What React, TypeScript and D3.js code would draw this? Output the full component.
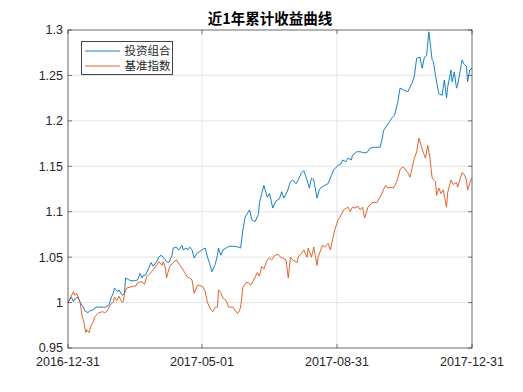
import { useMemo } from 'react'
import * as d3 from 'd3'

const title = '近1年累计收益曲线'
const seriesNames = ['投资组合', '基准指数']
const seriesColors = ['#0072BD', '#D95319']

const xTickDates = ['2016-12-31', '2017-05-01', '2017-08-31', '2017-12-31']
const yTicks = [0.95, 1, 1.05, 1.1, 1.15, 1.2, 1.25, 1.3]

// 投资组合
const portfolio: [string, number][] = [
  ['2016-12-31', 1.0], ['2017-01-03', 1.006], ['2017-01-05', 1.001], ['2017-01-06', 1.004],
  ['2017-01-09', 1.006], ['2017-01-11', 1.0], ['2017-01-14', 0.995], ['2017-01-15', 0.991],
  ['2017-01-18', 0.989], ['2017-01-20', 0.991], ['2017-01-23', 0.992], ['2017-01-25', 0.995],
  ['2017-02-01', 0.995], ['2017-02-03', 0.995], ['2017-02-06', 0.997], ['2017-02-08', 1.005],
  ['2017-02-10', 1.011], ['2017-02-11', 1.016], ['2017-02-14', 1.012], ['2017-02-15', 1.014],
  ['2017-02-18', 1.008], ['2017-02-20', 1.01], ['2017-02-21', 1.027], ['2017-02-24', 1.025],
  ['2017-02-26', 1.024], ['2017-03-01', 1.024], ['2017-03-04', 1.025], ['2017-03-06', 1.032],
  ['2017-03-08', 1.027], ['2017-03-09', 1.03], ['2017-03-11', 1.03], ['2017-03-14', 1.038],
  ['2017-03-16', 1.044], ['2017-03-18', 1.04], ['2017-03-21', 1.045], ['2017-03-23', 1.05],
  ['2017-03-25', 1.052], ['2017-03-27', 1.05], ['2017-03-30', 1.045], ['2017-04-01', 1.044],
  ['2017-04-04', 1.052], ['2017-04-05', 1.06], ['2017-04-08', 1.061], ['2017-04-10', 1.058],
  ['2017-04-13', 1.063], ['2017-04-14', 1.058], ['2017-04-17', 1.06], ['2017-04-18', 1.058],
  ['2017-04-20', 1.061], ['2017-04-22', 1.058], ['2017-04-24', 1.049], ['2017-04-27', 1.055],
  ['2017-04-29', 1.056], ['2017-05-01', 1.058], ['2017-05-04', 1.06], ['2017-05-06', 1.05],
  ['2017-05-08', 1.043], ['2017-05-10', 1.034], ['2017-05-13', 1.042], ['2017-05-15', 1.052],
  ['2017-05-16', 1.06], ['2017-05-18', 1.052], ['2017-05-20', 1.058], ['2017-05-24', 1.061],
  ['2017-05-26', 1.062], ['2017-05-31', 1.062], ['2017-06-03', 1.061], ['2017-06-05', 1.06],
  ['2017-06-07', 1.08], ['2017-06-09', 1.094], ['2017-06-12', 1.1], ['2017-06-13', 1.102],
  ['2017-06-15', 1.091], ['2017-06-18', 1.089], ['2017-06-21', 1.097], ['2017-06-22', 1.11],
  ['2017-06-24', 1.12], ['2017-06-26', 1.129], ['2017-06-29', 1.116], ['2017-07-01', 1.12],
  ['2017-07-02', 1.115], ['2017-07-04', 1.104], ['2017-07-07', 1.112], ['2017-07-10', 1.114],
  ['2017-07-12', 1.122], ['2017-07-14', 1.115], ['2017-07-17', 1.122], ['2017-07-20', 1.133],
  ['2017-07-22', 1.135], ['2017-07-25', 1.131], ['2017-07-27', 1.135], ['2017-07-30', 1.143],
  ['2017-08-01', 1.145], ['2017-08-04', 1.135], ['2017-08-06', 1.126], ['2017-08-08', 1.137],
  ['2017-08-10', 1.135], ['2017-08-13', 1.115], ['2017-08-15', 1.124], ['2017-08-17', 1.127],
  ['2017-08-20', 1.129], ['2017-08-23', 1.131], ['2017-08-26', 1.14], ['2017-08-28', 1.146],
  ['2017-09-01', 1.151], ['2017-09-04', 1.153], ['2017-09-05', 1.157], ['2017-09-08', 1.155],
  ['2017-09-10', 1.159], ['2017-09-13', 1.157], ['2017-09-14', 1.162], ['2017-09-18', 1.166],
  ['2017-09-21', 1.166], ['2017-09-24', 1.165], ['2017-09-27', 1.165], ['2017-09-30', 1.17],
  ['2017-10-04', 1.171], ['2017-10-09', 1.171], ['2017-10-11', 1.181], ['2017-10-12', 1.189],
  ['2017-10-15', 1.195], ['2017-10-18', 1.2], ['2017-10-20', 1.204], ['2017-10-22', 1.206],
  ['2017-10-25', 1.221], ['2017-10-27', 1.236], ['2017-10-30', 1.234], ['2017-11-03', 1.232],
  ['2017-11-07', 1.242], ['2017-11-09', 1.25], ['2017-11-11', 1.269], ['2017-11-14', 1.27],
  ['2017-11-16', 1.258], ['2017-11-18', 1.27], ['2017-11-20', 1.272], ['2017-11-22', 1.298],
  ['2017-11-25', 1.267], ['2017-11-26', 1.266], ['2017-11-28', 1.25], ['2017-12-01', 1.23],
  ['2017-12-04', 1.228], ['2017-12-06', 1.245], ['2017-12-08', 1.225], ['2017-12-09', 1.237],
  ['2017-12-12', 1.256], ['2017-12-13', 1.243], ['2017-12-15', 1.254], ['2017-12-17', 1.236],
  ['2017-12-18', 1.239], ['2017-12-22', 1.267], ['2017-12-24', 1.262], ['2017-12-26', 1.26],
  ['2017-12-27', 1.243], ['2017-12-29', 1.256], ['2017-12-31', 1.258],
]

// 基准指数
const benchmark: [string, number][] = [
  ['2016-12-31', 1.0], ['2017-01-05', 1.012], ['2017-01-06', 1.008], ['2017-01-08', 1.01],
  ['2017-01-11', 1.0], ['2017-01-13', 0.983], ['2017-01-14', 0.981], ['2017-01-16', 0.967],
  ['2017-01-17', 0.97], ['2017-01-19', 0.967], ['2017-01-21', 0.975], ['2017-01-23', 0.979],
  ['2017-01-24', 0.984], ['2017-01-27', 0.988], ['2017-01-31', 0.99], ['2017-02-02', 0.989],
  ['2017-02-04', 0.99], ['2017-02-07', 0.997], ['2017-02-10', 1.001], ['2017-02-11', 1.006],
  ['2017-02-13', 1.002], ['2017-02-15', 1.007], ['2017-02-18', 1.0], ['2017-02-19', 1.001],
  ['2017-02-20', 1.01], ['2017-02-22', 1.016], ['2017-02-25', 1.017], ['2017-02-28', 1.018],
  ['2017-03-02', 1.018], ['2017-03-04', 1.022], ['2017-03-08', 1.023], ['2017-03-10', 1.02],
  ['2017-03-12', 1.028], ['2017-03-15', 1.032], ['2017-03-18', 1.036], ['2017-03-21', 1.041],
  ['2017-03-23', 1.045], ['2017-03-26', 1.041], ['2017-03-27', 1.045], ['2017-03-29', 1.038],
  ['2017-03-30', 1.027], ['2017-03-31', 1.032], ['2017-04-02', 1.04], ['2017-04-05', 1.044],
  ['2017-04-08', 1.047], ['2017-04-11', 1.041], ['2017-04-14', 1.036], ['2017-04-18', 1.028],
  ['2017-04-20', 1.027], ['2017-04-22', 1.025], ['2017-04-24', 1.01], ['2017-04-27', 1.019],
  ['2017-04-29', 1.019], ['2017-05-02', 1.017], ['2017-05-04', 1.012], ['2017-05-06', 1.0],
  ['2017-05-09', 0.992], ['2017-05-11', 0.99], ['2017-05-13', 0.995], ['2017-05-15', 0.995],
  ['2017-05-16', 1.014], ['2017-05-18', 1.011], ['2017-05-20', 1.005], ['2017-05-23', 1.002],
  ['2017-05-25', 0.995], ['2017-05-26', 0.995], ['2017-05-29', 0.995], ['2017-06-02', 0.988],
  ['2017-06-03', 0.989], ['2017-06-05', 0.995], ['2017-06-07', 1.017], ['2017-06-10', 1.022],
  ['2017-06-12', 1.022], ['2017-06-14', 1.019], ['2017-06-16', 1.023], ['2017-06-20', 1.033],
  ['2017-06-22', 1.029], ['2017-06-24', 1.04], ['2017-06-26', 1.037], ['2017-06-29', 1.047],
  ['2017-07-01', 1.049], ['2017-07-03', 1.047], ['2017-07-06', 1.052], ['2017-07-09', 1.053],
  ['2017-07-11', 1.05], ['2017-07-13', 1.049], ['2017-07-16', 1.047], ['2017-07-18', 1.027],
  ['2017-07-20', 1.05], ['2017-07-22', 1.047], ['2017-07-26', 1.044], ['2017-07-27', 1.05],
  ['2017-07-30', 1.054], ['2017-08-01', 1.058], ['2017-08-04', 1.05], ['2017-08-05', 1.06],
  ['2017-08-08', 1.05], ['2017-08-10', 1.061], ['2017-08-13', 1.041], ['2017-08-14', 1.05],
  ['2017-08-17', 1.06], ['2017-08-18', 1.063], ['2017-08-20', 1.061], ['2017-08-23', 1.065],
  ['2017-08-25', 1.058], ['2017-08-27', 1.069], ['2017-08-29', 1.08], ['2017-09-01', 1.091],
  ['2017-09-05', 1.099], ['2017-09-06', 1.102], ['2017-09-10', 1.105], ['2017-09-12', 1.1],
  ['2017-09-14', 1.105], ['2017-09-16', 1.104], ['2017-09-19', 1.106], ['2017-09-21', 1.102],
  ['2017-09-23', 1.105], ['2017-09-25', 1.093], ['2017-09-28', 1.105], ['2017-10-02', 1.11],
  ['2017-10-06', 1.11], ['2017-10-09', 1.116], ['2017-10-12', 1.124], ['2017-10-14', 1.129],
  ['2017-10-16', 1.126], ['2017-10-19', 1.127], ['2017-10-21', 1.126], ['2017-10-24', 1.133],
  ['2017-10-27', 1.146], ['2017-10-29', 1.149], ['2017-10-31', 1.148], ['2017-11-03', 1.143],
  ['2017-11-05', 1.138], ['2017-11-07', 1.149], ['2017-11-09', 1.159], ['2017-11-11', 1.166],
  ['2017-11-13', 1.181], ['2017-11-15', 1.173], ['2017-11-17', 1.165], ['2017-11-19', 1.159],
  ['2017-11-21', 1.173], ['2017-11-23', 1.159], ['2017-11-25', 1.137], ['2017-11-28', 1.133],
  ['2017-11-29', 1.118], ['2017-12-01', 1.126], ['2017-12-03', 1.12], ['2017-12-05', 1.124],
  ['2017-12-08', 1.105], ['2017-12-09', 1.121], ['2017-12-12', 1.135], ['2017-12-14', 1.13],
  ['2017-12-17', 1.132], ['2017-12-18', 1.127], ['2017-12-22', 1.143], ['2017-12-24', 1.141],
  ['2017-12-26', 1.135], ['2017-12-27', 1.124], ['2017-12-30', 1.135], ['2017-12-31', 1.137],
]

const W = 523
const H = 392
const margin = { left: 68, right: 51, top: 30, bottom: 44 }
const parse = d3.timeParse('%Y-%m-%d')
const axisColor = '#262626'
const font = '"Liberation Sans", Arial, sans-serif'

export default function App() {
  const x = useMemo(
    () =>
      d3
        .scaleTime()
        .domain([parse(xTickDates[0])!, parse(xTickDates[xTickDates.length - 1])!])
        .range([margin.left, W - margin.right]),
    []
  )
  const y = useMemo(
    () => d3.scaleLinear().domain([0.95, 1.3]).range([H - margin.bottom, margin.top]),
    []
  )
  const line = d3
    .line<[string, number]>()
    .x((d) => x(parse(d[0])!))
    .y((d) => y(d[1]))

  const x0 = margin.left
  const x1 = W - margin.right
  const y0 = H - margin.bottom
  const y1 = margin.top
  const tick = 4

  return (
    <svg
      width={W}
      height={H}
      style={{ position: 'absolute', left: 0, top: 0, background: '#fff' }}
    >
      <rect width={W} height={H} fill="#fff" />
      {/* grid */}
      <g stroke="#dedede" strokeWidth={0.8}>
        {xTickDates.map((d) => (
          <line key={d} x1={x(parse(d)!)} x2={x(parse(d)!)} y1={y0} y2={y1} />
        ))}
        {yTicks.map((v) => (
          <line key={v} x1={x0} x2={x1} y1={y(v)} y2={y(v)} />
        ))}
      </g>
      {/* series */}
      <g fill="none" strokeWidth={0.9}>
        <path d={line(portfolio) ?? ''} stroke={seriesColors[0]} />
        <path d={line(benchmark) ?? ''} stroke={seriesColors[1]} />
      </g>
      {/* box and ticks */}
      <g stroke={axisColor} strokeOpacity={0.6} strokeWidth={1} fill="none">
        <rect x={x0} y={y1} width={x1 - x0} height={y0 - y1} />
        {yTicks.map((v) => (
          <g key={v}>
            <line x1={x0} x2={x0 + tick} y1={y(v)} y2={y(v)} />
            <line x1={x1} x2={x1 - tick} y1={y(v)} y2={y(v)} />
          </g>
        ))}
        {xTickDates.map((d) => (
          <g key={d}>
            <line x1={x(parse(d)!)} x2={x(parse(d)!)} y1={y0} y2={y0 - tick} />
            <line x1={x(parse(d)!)} x2={x(parse(d)!)} y1={y1} y2={y1 + tick} />
          </g>
        ))}
      </g>
      {/* tick labels */}
      <g fill={axisColor} fontFamily={font} fontSize={12.5}>
        {yTicks.map((v) => (
          <text key={v} x={x0 - 5} y={y(v)} dy="0.35em" textAnchor="end">
            {String(v)}
          </text>
        ))}
        {xTickDates.map((d) => (
          <text key={d} x={x(parse(d)!)} y={y0 + 18} textAnchor="middle">
            {d}
          </text>
        ))}
      </g>
      {/* title */}
      <text
        x={(x0 + x1) / 2}
        y={y1 - 6}
        textAnchor="middle"
        fontFamily='"Noto Sans CJK SC", sans-serif'
        fontWeight="bold"
        fontSize={14.5}
        fill="#000"
      >
        {title}
      </text>
      {/* legend */}
      <g transform="translate(81.5,41.5)">
        <rect width={91} height={33} fill="#fff" stroke={axisColor} strokeOpacity={0.85} strokeWidth={1} />
        {seriesNames.map((name, i) => (
          <g key={name} transform={`translate(0,${9.5 + i * 15})`}>
            <line x1={3.5} x2={38.5} stroke={seriesColors[i]} strokeWidth={0.9} />
            <text
              x={43}
              dy="0.36em"
              fontFamily='"Noto Sans CJK SC", sans-serif'
              fontSize={11.5}
              fill={axisColor}
            >
              {name}
            </text>
          </g>
        ))}
      </g>
    </svg>
  )
}
